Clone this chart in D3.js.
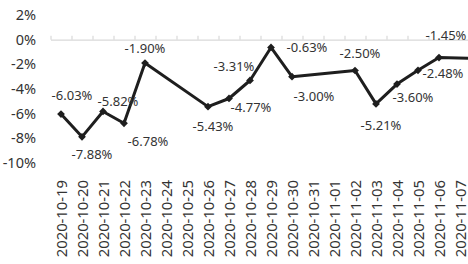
<!DOCTYPE html>
<html>
<head>
<meta charset="utf-8">
<script src="https://cdn.jsdelivr.net/npm/d3@7"></script>
<style>
  body { margin: 0; background: #fff; }
  text { font-family: "Noto Sans", sans-serif; fill: #333; }
</style>
</head>
<body>
<div class="chart"></div>
<script>
// calendar days on the axis (the last two fall outside the visible area)
var days = ["2020-10-19", "2020-10-20", "2020-10-21", "2020-10-22", "2020-10-23",
  "2020-10-24", "2020-10-25", "2020-10-26", "2020-10-27", "2020-10-28",
  "2020-10-29", "2020-10-30", "2020-10-31", "2020-11-01", "2020-11-02",
  "2020-11-03", "2020-11-04", "2020-11-05", "2020-11-06", "2020-11-07",
  "2020-11-08", "2020-11-09"];

// trading days and their values (%)
var tradeDays = ["2020-10-19", "2020-10-20", "2020-10-21", "2020-10-22", "2020-10-23",
  "2020-10-26", "2020-10-27", "2020-10-28", "2020-10-29", "2020-10-30",
  "2020-11-02", "2020-11-03", "2020-11-04", "2020-11-05", "2020-11-06", "2020-11-09"];
var values = [-6.03, -7.88, -5.82, -6.78, -1.90,
  -5.43, -4.77, -3.31, -0.63, -3.00,
  -2.50, -5.21, -3.60, -2.48, -1.45, -1.58];

var yTicks = [2, 0, -2, -4, -6, -8, -10];

// data label offsets from their point [dx, dy]
var labelOffsets = [[11, -19], [10, 18], [15, -10], [24, 18], [0, -15],
  [5, 20], [22, 9], [-16, -14], [36, 0], [22, 20],
  [5, -17], [5, 22], [16, 13], [25, 3], [7, -22]];

var svgWidth = 468;
var svgHeight = 264;
var step = 21;
var left = 50.5;

var svg = d3.select(".chart").append("svg")
  .attr("width", svgWidth)
  .attr("height", svgHeight);

var x = d3.scaleBand().domain(days).range([left, left + days.length * step]);
var xEdge = d3.scaleLinear().domain([0, days.length]).range([left, left + days.length * step]);
var y = d3.scaleLinear().domain([-10, 2]).range([163, 15]);

// y labels
var yAxis = svg.append("g")
  .attr("transform", "translate(36,0)")
  .call(d3.axisLeft(y).tickValues(yTicks).tickSize(0).tickPadding(0).tickFormat(d => d + "%"));
yAxis.select(".domain").remove();
yAxis.selectAll("text")
  .style("font-family", "Noto Sans")
  .style("font-size", "14.5px")
  .attr("fill", "#333");

// horizontal axis at 0 with tick marks pointing up
var zeroAxis = svg.append("g")
  .attr("transform", "translate(0," + y(0) + ")")
  .call(d3.axisTop(xEdge).tickValues(d3.range(days.length + 1)).tickSize(4).tickSizeOuter(0).tickFormat(""));
zeroAxis.select(".domain").attr("stroke", "#d9d9d9").attr("stroke-width", 1.2);
zeroAxis.selectAll("line").attr("stroke", "#d9d9d9").attr("stroke-width", 1.2);

// date labels at the bottom
var xAxis = svg.append("g")
  .attr("transform", "translate(1,180)")
  .call(d3.axisBottom(x).tickSize(0).tickPadding(0));
xAxis.select(".domain").remove();
xAxis.selectAll("text")
  .style("font-family", "Noto Sans")
  .style("font-size", "14.8px")
  .attr("fill", "#333")
  .attr("text-anchor", "end")
  .attr("transform", "rotate(-90)")
  .attr("x", 0)
  .attr("y", 0)
  .attr("dy", "0.35em");

var data = tradeDays.map((d, i) => ({ day: d, value: values[i] }));
var cx = d => x(d.day) + x.bandwidth() / 2;

var line = d3.line().x(cx).y(d => y(d.value));

svg.append("path")
  .datum(data)
  .attr("d", line)
  .attr("fill", "none")
  .attr("stroke", "#1e1e1e")
  .attr("stroke-width", 3)
  .attr("stroke-linejoin", "round");

svg.append("g").selectAll("path")
  .data(data)
  .join("path")
  .attr("d", d3.symbol(d3.symbolSquare, 30))
  .attr("transform", d => "translate(" + cx(d) + "," + y(d.value) + ") rotate(45)")
  .attr("fill", "#1e1e1e");

// data labels
svg.append("g").selectAll("text")
  .data(data.slice(0, labelOffsets.length))
  .join("text")
  .attr("x", (d, i) => cx(d) + labelOffsets[i][0])
  .attr("y", (d, i) => y(d.value) + labelOffsets[i][1])
  .attr("dy", "0.35em")
  .attr("text-anchor", "middle")
  .style("font-size", "13px")
  .text(d => d.value.toFixed(2) + "%");
</script>
</body>
</html>
